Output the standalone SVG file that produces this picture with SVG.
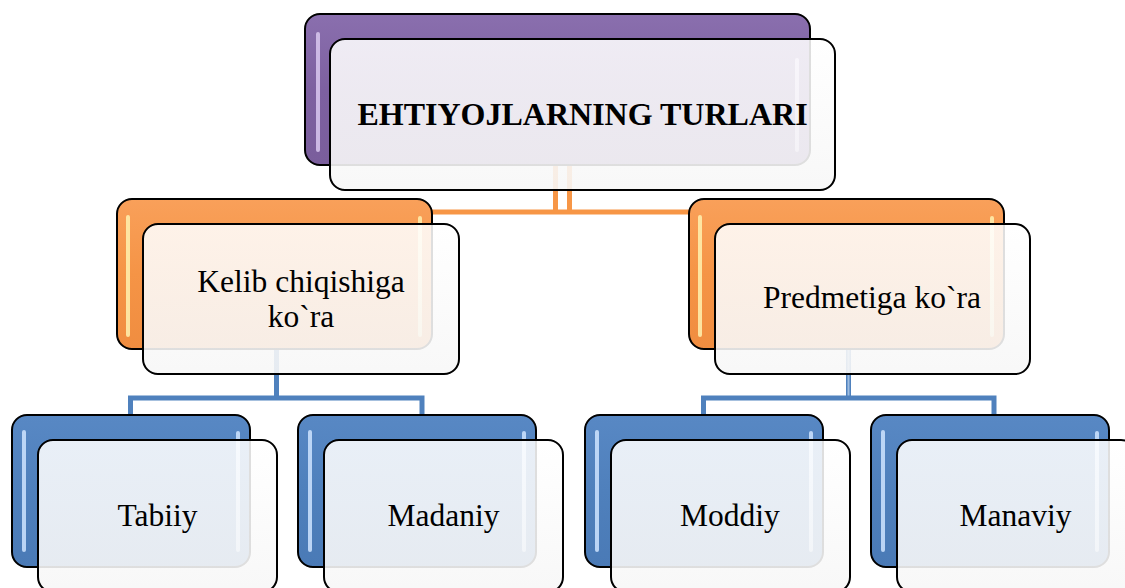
<svg xmlns="http://www.w3.org/2000/svg" width="1125" height="588" viewBox="0 0 1125 588">
<defs>
<linearGradient id="gPurple" x1="0" y1="0" x2="0" y2="1"><stop offset="0" stop-color="#8a6fae"/><stop offset="0.5" stop-color="#7d60a0"/><stop offset="1" stop-color="#7a5e9c"/></linearGradient>
<linearGradient id="gOrange" x1="0" y1="0" x2="0" y2="1"><stop offset="0" stop-color="#f9a05a"/><stop offset="0.5" stop-color="#f59446"/><stop offset="1" stop-color="#f08d40"/></linearGradient>
<linearGradient id="gBlue" x1="0" y1="0" x2="0" y2="1"><stop offset="0" stop-color="#5888c4"/><stop offset="0.5" stop-color="#4f80bc"/><stop offset="1" stop-color="#4a7ab6"/></linearGradient>
<linearGradient id="gFront" x1="0" y1="0" x2="0" y2="1"><stop offset="0" stop-color="#ffffff" stop-opacity="0.87"/><stop offset="1" stop-color="#f7f7f7" stop-opacity="0.9"/></linearGradient>
</defs>
<style>
.back{stroke:#000;stroke-width:2}
.purple{fill:url(#gPurple)}
.orange{fill:url(#gOrange)}
.blue{fill:url(#gBlue)}
.front{fill:url(#gFront);stroke:#000;stroke-width:2}
.hl{fill:none;stroke-width:4;stroke-linecap:round;opacity:0.85}
.hlP{stroke:#d9c8f0}
.hlO{stroke:#fff2b0}
.hlB{stroke:#cfe4ff}
.t{font-family:"Liberation Serif","Times New Roman",serif;font-size:31.5px;fill:#000;text-anchor:middle}
.tb{font-family:"Liberation Serif","Times New Roman",serif;font-size:32px;font-weight:bold;fill:#000;text-anchor:middle}
.co{fill:none;stroke:#f79646;stroke-width:5}
.cb{fill:none;stroke:#4f81bd;stroke-width:5}
</style>
<g id="connectors">
<path class="co" d="M432 212 H689"/>
<path class="co" d="M555.5 165 V212 M569.5 165 V212" stroke-width="4"/>
<path class="cb" d="M276.5 349 V398" stroke-width="7"/>
<path class="cb" d="M130.5 415 V398 H422 V415"/>
<path class="cb" d="M848.5 349 V398" stroke-width="9"/>
<path d="M848.5 349 V396" stroke="#9fbde0" stroke-width="2" fill="none"/>
<path class="cb" d="M703.5 415 V398 H994 V415"/>
</g>
<g id="node-top">
<rect class="back purple" x="305" y="14" width="505" height="151" rx="15"/>
<path class="hl hlP" d="M318 34 V150 M797 60 V150"/>
<rect class="front" x="330" y="39" width="505" height="151" rx="15"/>
<text class="tb" x="582.5" y="125">EHTIYOJLARNING TURLARI</text>
</g>
<g id="node-kelib">
<rect class="back orange" x="117" y="199" width="315" height="150" rx="15"/>
<path class="hl hlO" d="M128 217 V335 M420 218 V335"/>
<rect class="front" x="143" y="224" width="316" height="150" rx="15"/>
<text class="t" x="301" y="292">Kelib chiqishiga</text>
<text class="t" x="301" y="327">ko`ra</text>
</g>
<g id="node-predmet">
<rect class="back orange" x="689" y="199" width="315" height="150" rx="15"/>
<path class="hl hlO" d="M700 217 V335 M992 218 V335"/>
<rect class="front" x="715" y="224" width="315" height="150" rx="15"/>
<text class="t" x="872" y="308">Predmetiga ko`ra</text>
</g>
<g id="node-tabiiy">
<rect class="back blue" x="12" y="415" width="238" height="152" rx="15"/>
<path class="hl hlB" d="M24 432 V550 M238 433 V550"/>
<rect class="front" x="38" y="440" width="239" height="152" rx="15"/>
<text class="t" x="157.5" y="526">Tabiiy</text>
</g>
<g id="node-madaniy">
<rect class="back blue" x="298" y="415" width="238" height="152" rx="15"/>
<path class="hl hlB" d="M310 432 V550 M524 433 V550"/>
<rect class="front" x="324" y="440" width="239" height="152" rx="15"/>
<text class="t" x="443.5" y="526">Madaniy</text>
</g>
<g id="node-moddiy">
<rect class="back blue" x="585" y="415" width="238" height="152" rx="15"/>
<path class="hl hlB" d="M597 432 V550 M811 433 V550"/>
<rect class="front" x="611" y="440" width="239" height="152" rx="15"/>
<text class="t" x="730" y="526">Moddiy</text>
</g>
<g id="node-manaviy">
<rect class="back blue" x="871" y="415" width="238" height="152" rx="15"/>
<path class="hl hlB" d="M883 432 V550 M1097 433 V550"/>
<rect class="front" x="897" y="440" width="239" height="152" rx="15"/>
<text class="t" x="1015.5" y="526">Manaviy</text>
</g>
</svg>
